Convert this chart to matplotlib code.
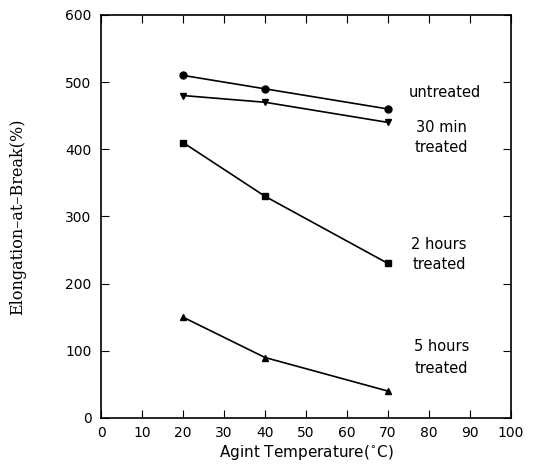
import numpy as np
import matplotlib
matplotlib.use("Agg")
import matplotlib.pyplot as plt

temps = [20, 40, 70]
untreated = [510, 490, 460]
min30 = [480, 470, 440]
hours2 = [410, 330, 230]
hours5 = [150, 90, 40]

fig = plt.figure(figsize=(5.35, 4.67), dpi=100)
ax = fig.add_axes([0.189, 0.105, 0.766, 0.863])

ax.plot(temps, untreated, 'k-', marker='o', ms=5, lw=1.2)
ax.plot(temps, min30, 'k-', marker='v', ms=4.5, lw=1.2)
ax.plot(temps, hours2, 'k-', marker='s', ms=4, lw=1.2)
ax.plot(temps, hours5, 'k-', marker='^', ms=4.5, lw=1.2)

lab = dict(ha='center', va='center', fontsize=10.5)
ax.text(84, 484, 'untreated', **lab)
ax.text(83, 432, '30 min', **lab)
ax.text(83, 402, 'treated', **lab)
ax.text(82.5, 258, '2 hours', **lab)
ax.text(82.5, 228, 'treated', **lab)
ax.text(83, 106, '5 hours', **lab)
ax.text(83, 74, 'treated', **lab)

ax.set_xlim(0, 100)
ax.set_ylim(0, 600)
ax.set_xticks(np.arange(0, 101, 10))
ax.set_yticks(np.arange(0, 601, 100))
ax.tick_params(direction='in', top=True, right=True, labelsize=10, length=6)
ax.tick_params(axis='x', pad=6)
ax.tick_params(axis='y', pad=7)
for s in ax.spines.values():
    s.set_linewidth(1.2)

ax.set_xlabel(r'Agint Temperature($^{\circ}$C)', fontsize=11, labelpad=2)
ax.set_ylabel('Elongation\u2013at\u2013Break(%)', fontsize=11.5, family='DejaVu Serif', labelpad=28)

fig.savefig('out.png', dpi=100)
